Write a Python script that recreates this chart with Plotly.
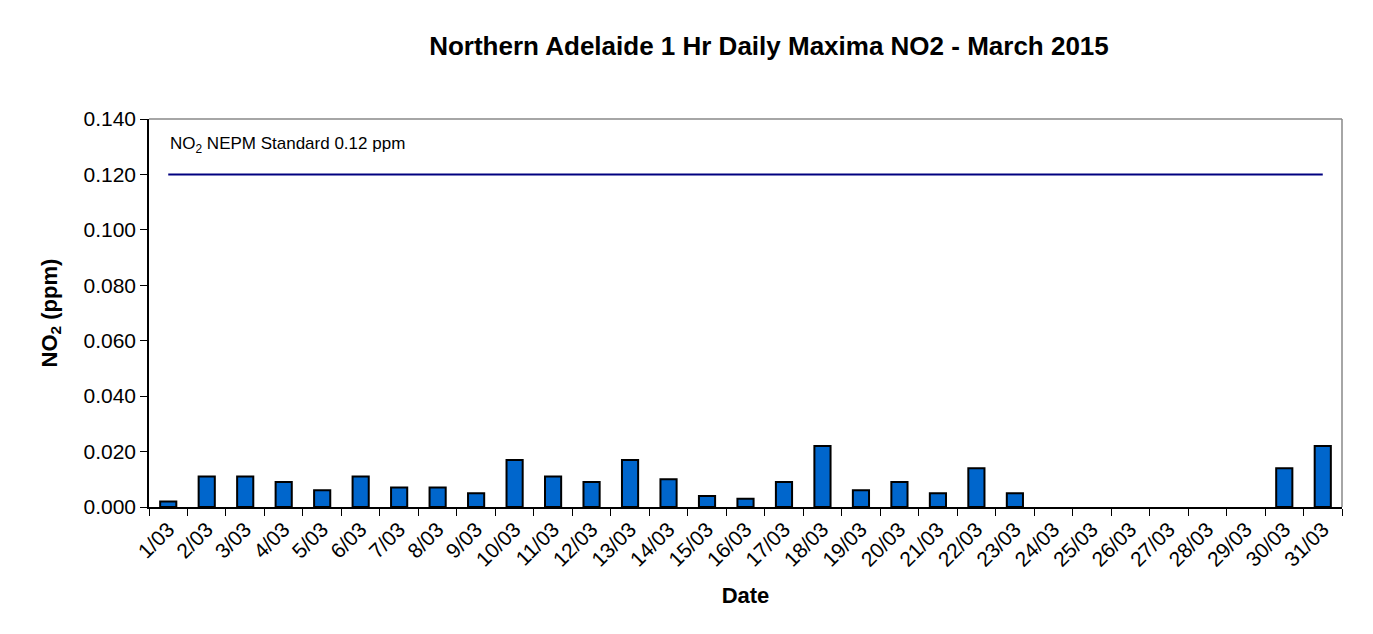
import plotly.graph_objects as go

dates = [f"{d}/03" for d in range(1, 32)]
no2 = [0.002, 0.011, 0.011, 0.009, 0.006, 0.011, 0.007, 0.007, 0.005, 0.017,
       0.011, 0.009, 0.017, 0.010, 0.004, 0.003, 0.009, 0.022, 0.006, 0.009,
       0.005, 0.014, 0.005, None, None, None, None, None, None, 0.014, 0.022]
standard = [0.12] * len(dates)

fig = go.Figure()
fig.add_trace(go.Bar(x=dates, y=no2, marker=dict(color="#0066CC", line=dict(color="black", width=2)),
                     showlegend=False))
fig.add_trace(go.Scatter(x=dates, y=standard, mode="lines", line=dict(color="#000080", width=2),
                         showlegend=False))

fig.add_annotation(x=0, y=0.1306, xref="paper", yref="y", xanchor="left", yanchor="middle",
                   xshift=19, text="NO<sub>2</sub> NEPM Standard 0.12 ppm", showarrow=False,
                   font=dict(family="Arial, Liberation Sans", size=17, color="black"))

fig.update_layout(
    width=1373, height=634,
    paper_bgcolor="white", plot_bgcolor="white",
    margin=dict(l=141, r=39, t=111, b=135, autoexpand=False),
    bargap=0.58,
    font=dict(family="Arial, Liberation Sans", color="black"),
    title=dict(text="<b>Northern Adelaide 1 Hr Daily Maxima NO2 - March 2015</b>",
               x=761 / 1373, xanchor="center", xref="container", y=1 - 38 / 634, yanchor="middle",
               yref="container", font=dict(size=26, color="black")),
)
fig.update_xaxes(
    type="category", tickangle=-45, tickfont=dict(size=21), automargin=False,
    showline=True, linecolor="black", linewidth=1.5, mirror=False,
    ticks="outside", ticklen=7, tickcolor="black", tickson="boundaries",
    title=dict(text="<b>Date</b>", font=dict(size=22), standoff=18),
    showgrid=False,
)
fig.update_yaxes(
    range=[0, 0.14], dtick=0.02, tickformat=".3f", tickfont=dict(size=21), automargin=False,
    showline=True, linecolor="black", linewidth=1.5,
    ticks="outside", ticklen=7, tickcolor="black",
    title=dict(text="<b>NO<sub>2</sub> (ppm)</b>", font=dict(size=22), standoff=20),
    showgrid=False, zeroline=False,
)
# gray border on top and right
fig.add_shape(type="line", xref="paper", yref="paper", x0=0, x1=1, y0=1, y1=1,
              line=dict(color="#888888", width=1.5))
fig.add_shape(type="line", xref="paper", yref="paper", x0=1, x1=1, y0=0, y1=1,
              line=dict(color="#888888", width=1.5))

fig.write_html("out.html")
